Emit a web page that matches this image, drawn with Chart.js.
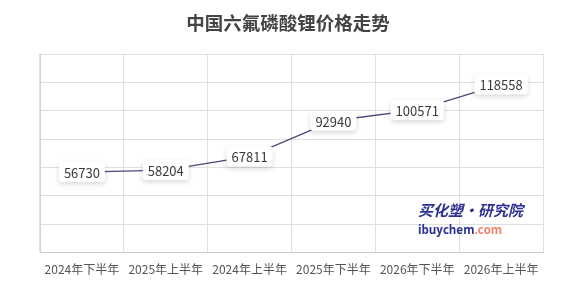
<!DOCTYPE html>
<html>
<head>
<meta charset="utf-8">
<script src="https://cdn.jsdelivr.net/npm/chart.js@4/dist/chart.umd.min.js"></script>
<style>
    html, body { margin: 0; padding: 0; background: #fff; }
    #wrap { width: 576px; height: 295px; }
</style>
</head>
<body>
<div id="wrap"><canvas id="lineChart"></canvas></div>
<script>
var periods = ["2024年下半年", "2025年上半年", "2024年上半年", "2025年下半年", "2026年下半年", "2026年上半年"];
var prices = [56730, 58204, 67811, 92940, 100571, 118558];
var chartTitle = "中国六氟磷酸锂价格走势";

// title drawn by hand so its place is fixed
const titleText = {
    id: "titleText",
    afterDraw(chart) {
        const ctx = chart.ctx;
        ctx.save();
        ctx.font = "bold 18.5px 'Noto Sans CJK SC', sans-serif";
        ctx.fillStyle = "#444";
        ctx.textAlign = "center";
        ctx.textBaseline = "middle";
        ctx.fillText(chartTitle, 288, 23);
        ctx.restore();
    }
};

// white boxes with a soft shadow holding the value of each point
const valueBoxes = {
    id: "valueBoxes",
    afterDatasetsDraw(chart) {
        const ctx = chart.ctx;
        const meta = chart.getDatasetMeta(0);
        ctx.save();
        ctx.font = "13px 'Noto Sans CJK SC', 'Open Sans', sans-serif";
        ctx.textAlign = "center";
        ctx.textBaseline = "middle";
        meta.data.forEach((pt, i) => {
            const text = String(prices[i]);
            const w = ctx.measureText(text).width + 10;
            const h = 20;
            ctx.save();
            ctx.shadowColor = "rgba(0,0,0,0.16)";
            ctx.shadowBlur = 5;
            ctx.shadowOffsetY = 2;
            ctx.fillStyle = "#fff";
            ctx.beginPath();
            ctx.roundRect(pt.x - w / 2, pt.y - h / 2, w, h, 3);
            ctx.fill();
            ctx.restore();
            ctx.fillStyle = "#3a3a3a";
            ctx.fillText(text, pt.x, pt.y + 1);
        });
        ctx.restore();
    }
};

// site watermark in the lower right
const watermark = {
    id: "watermark",
    beforeDatasetsDraw(chart) {
        const ctx = chart.ctx;
        const a = chart.chartArea;
        const x = a.right - 125;
        ctx.save();
        ctx.textAlign = "left";
        ctx.textBaseline = "middle";
        ctx.fillStyle = "#2e3192";
        ctx.font = "italic bold 15px 'Noto Sans CJK SC', sans-serif";
        ctx.fillText("买化塑·研究院", x, a.bottom - 42);
        ctx.font = "bold 11.5px 'Open Sans', sans-serif";
        ctx.fillText("ibuychem", x, a.bottom - 22);
        const w = ctx.measureText("ibuychem").width;
        ctx.fillStyle = "#f2866b";
        ctx.fillText(".com", x + w, a.bottom - 22);
        ctx.restore();
    }
};

window.onload = () => {
    const ctx = document.getElementById("lineChart");
    new Chart(ctx, {
        type: "line",
        data: {
            labels: periods,
            datasets: [{
                data: prices,
                borderColor: "#4a4878",
                borderWidth: 1.3,
                pointRadius: 0,
                tension: 0,
                fill: false
            }]
        },
        options: {
            responsive: true,
            maintainAspectRatio: false,
            animation: false,
            layout: { padding: { left: 40, right: 33, top: 54, bottom: 8 } },
            plugins: {
                legend: { display: false },
                tooltip: { enabled: false },
                title: { display: false }
            },
            scales: {
                x: {
                    offset: true,
                    grid: { color: "#e0e0e0", drawTicks: false, offset: true },
                    border: { color: "#cccccc" },
                    ticks: {
                        color: "#555",
                        padding: 10,
                        maxRotation: 0,
                        autoSkip: false,
                        font: { size: 12, family: "'Noto Sans CJK SC', sans-serif" }
                    }
                },
                y: {
                    min: 0,
                    max: 140000,
                    grid: { color: "#e0e0e0", drawTicks: false },
                    border: { color: "#d4d4d4" },
                    ticks: { display: false, stepSize: 20000 }
                }
            }
        },
        plugins: [watermark, valueBoxes, titleText]
    });
};
</script>
</body>
</html>
